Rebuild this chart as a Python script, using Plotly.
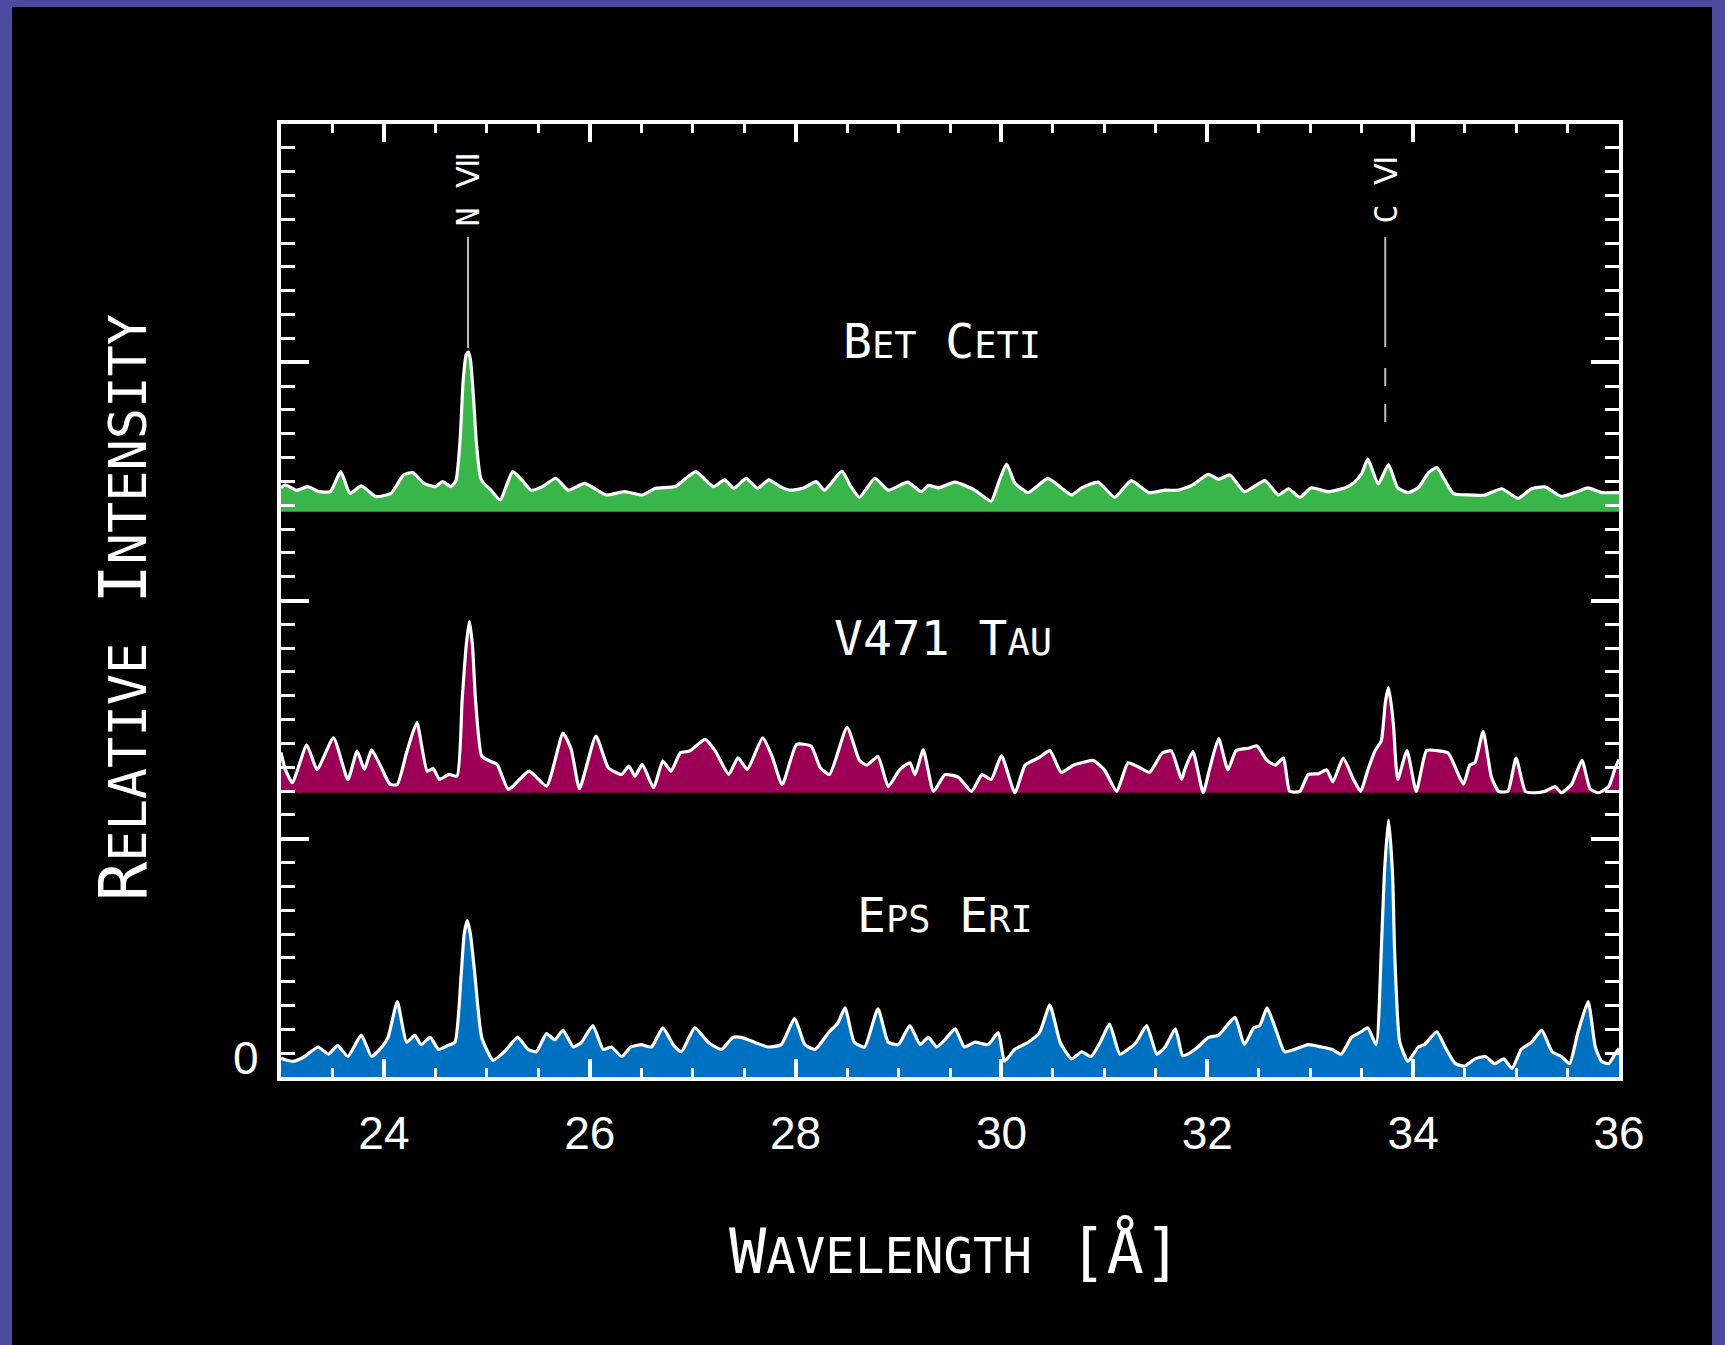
import plotly.graph_objects as go

# ---------------------------------------------------------------------------
# RGS-style X-ray spectra: (wavelength [Å], relative intensity above zero level)
# ---------------------------------------------------------------------------
BET_CETI = [
    (23.00, 0.100), (23.04, 0.112), (23.15, 0.090), (23.26, 0.105), (23.37, 0.084),
    (23.48, 0.084), (23.58, 0.168), (23.67, 0.077), (23.78, 0.108), (23.92, 0.063),
    (24.07, 0.077), (24.19, 0.154), (24.28, 0.164), (24.39, 0.119), (24.50, 0.105),
    (24.57, 0.126), (24.65, 0.105), (24.70, 0.130), (24.74, 0.300), (24.77, 0.550),
    (24.80, 0.660), (24.82, 0.670), (24.84, 0.640), (24.87, 0.480), (24.90, 0.280),
    (24.94, 0.140), (24.97, 0.119), (25.04, 0.090), (25.13, 0.049), (25.25, 0.168),
    (25.34, 0.133), (25.43, 0.090), (25.54, 0.105), (25.67, 0.140), (25.79, 0.090),
    (25.95, 0.119), (26.16, 0.070), (26.34, 0.084), (26.51, 0.070), (26.64, 0.098),
    (26.83, 0.105), (27.03, 0.168), (27.20, 0.105), (27.31, 0.133), (27.40, 0.098),
    (27.52, 0.140), (27.63, 0.098), (27.74, 0.133), (27.85, 0.105), (27.94, 0.090),
    (28.07, 0.098), (28.20, 0.126), (28.28, 0.090), (28.45, 0.170), (28.53, 0.110),
    (28.62, 0.060), (28.77, 0.140), (28.90, 0.090), (29.09, 0.124), (29.22, 0.084),
    (29.29, 0.110), (29.39, 0.100), (29.55, 0.124), (29.74, 0.090), (29.90, 0.044),
    (29.97, 0.120), (30.05, 0.200), (30.13, 0.120), (30.26, 0.080), (30.45, 0.140),
    (30.58, 0.100), (30.68, 0.070), (30.78, 0.100), (30.94, 0.124), (31.10, 0.060),
    (31.26, 0.130), (31.43, 0.080), (31.59, 0.090), (31.72, 0.090), (31.85, 0.110),
    (32.01, 0.156), (32.11, 0.136), (32.22, 0.154), (32.36, 0.084), (32.56, 0.130),
    (32.69, 0.070), (32.79, 0.096), (32.90, 0.060), (33.01, 0.100), (33.17, 0.084),
    (33.34, 0.100), (33.43, 0.124), (33.50, 0.160), (33.56, 0.220), (33.66, 0.116),
    (33.76, 0.197), (33.85, 0.100), (33.95, 0.080), (34.05, 0.100), (34.15, 0.164),
    (34.23, 0.185), (34.31, 0.130), (34.39, 0.076), (34.53, 0.070), (34.70, 0.070),
    (34.86, 0.096), (35.02, 0.056), (35.15, 0.096), (35.28, 0.104), (35.44, 0.064),
    (35.57, 0.080), (35.70, 0.100), (35.83, 0.080), (35.96, 0.080), (36.00, 0.080),
]

V471_TAU = [
    (23.00, 0.170), (23.04, 0.100), (23.11, 0.042), (23.25, 0.200), (23.35, 0.098),
    (23.51, 0.230), (23.65, 0.056), (23.74, 0.175), (23.81, 0.098), (23.88, 0.180),
    (23.96, 0.119), (24.06, 0.035), (24.13, 0.035), (24.22, 0.168), (24.32, 0.294),
    (24.42, 0.091), (24.48, 0.101), (24.54, 0.056), (24.63, 0.077), (24.71, 0.070),
    (24.76, 0.390), (24.80, 0.620), (24.83, 0.720), (24.86, 0.620), (24.89, 0.390),
    (24.95, 0.154), (25.03, 0.133), (25.10, 0.119), (25.21, 0.014), (25.41, 0.091),
    (25.58, 0.028), (25.74, 0.250), (25.82, 0.182), (25.90, 0.017), (26.06, 0.238),
    (26.18, 0.105), (26.31, 0.077), (26.38, 0.112), (26.44, 0.070), (26.51, 0.119),
    (26.62, 0.021), (26.71, 0.133), (26.79, 0.091), (26.88, 0.168), (26.97, 0.175),
    (27.12, 0.224), (27.22, 0.175), (27.35, 0.077), (27.44, 0.147), (27.53, 0.098),
    (27.68, 0.231), (27.77, 0.154), (27.87, 0.035), (28.01, 0.203), (28.15, 0.196),
    (28.24, 0.105), (28.33, 0.077), (28.50, 0.275), (28.62, 0.136), (28.69, 0.116),
    (28.80, 0.152), (28.90, 0.026), (29.01, 0.096), (29.11, 0.126), (29.16, 0.076),
    (29.24, 0.180), (29.34, 0.006), (29.45, 0.076), (29.58, 0.066), (29.71, 0.006),
    (29.81, 0.076), (29.90, 0.056), (30.00, 0.156), (30.13, 0.000), (30.23, 0.116),
    (30.36, 0.146), (30.47, 0.177), (30.58, 0.086), (30.70, 0.116), (30.78, 0.126),
    (30.89, 0.136), (31.00, 0.096), (31.12, 0.006), (31.23, 0.126), (31.34, 0.106),
    (31.44, 0.086), (31.56, 0.166), (31.65, 0.176), (31.75, 0.056), (31.78, 0.096),
    (31.86, 0.173), (31.96, 0.000), (32.02, 0.096), (32.11, 0.227), (32.20, 0.096),
    (32.28, 0.177), (32.40, 0.187), (32.48, 0.197), (32.58, 0.136), (32.66, 0.116),
    (32.74, 0.146), (32.80, 0.006), (32.90, 0.006), (32.98, 0.076), (33.08, 0.080),
    (33.16, 0.096), (33.22, 0.046), (33.32, 0.146), (33.42, 0.056), (33.49, 0.006),
    (33.56, 0.096), (33.63, 0.177), (33.69, 0.217), (33.73, 0.380), (33.76, 0.441),
    (33.79, 0.360), (33.81, 0.277), (33.85, 0.056), (33.94, 0.177), (34.03, 0.006),
    (34.13, 0.177), (34.23, 0.177), (34.34, 0.167), (34.44, 0.076), (34.49, 0.036),
    (34.55, 0.116), (34.60, 0.126), (34.68, 0.257), (34.76, 0.066), (34.83, 0.006),
    (34.92, 0.006), (35.00, 0.146), (35.09, 0.006), (35.18, 0.000), (35.28, 0.006),
    (35.38, 0.026), (35.44, 0.000), (35.54, 0.036), (35.64, 0.136), (35.72, 0.016),
    (35.80, 0.000), (35.90, 0.026), (35.96, 0.100), (36.00, 0.140),
]

EPS_ERI = [
    (23.00, 0.080), (23.02, 0.076), (23.12, 0.066), (23.23, 0.086), (23.36, 0.126),
    (23.46, 0.096), (23.55, 0.132), (23.65, 0.086), (23.78, 0.176), (23.88, 0.086),
    (23.98, 0.126), (24.04, 0.166), (24.13, 0.316), (24.22, 0.146), (24.30, 0.176),
    (24.36, 0.136), (24.45, 0.166), (24.53, 0.116), (24.62, 0.132), (24.69, 0.146),
    (24.75, 0.426), (24.78, 0.600), (24.81, 0.657), (24.84, 0.600), (24.88, 0.446),
    (24.95, 0.166), (25.06, 0.070), (25.17, 0.106), (25.30, 0.166), (25.40, 0.116),
    (25.48, 0.106), (25.58, 0.182), (25.66, 0.156), (25.74, 0.196), (25.84, 0.126),
    (25.92, 0.146), (26.03, 0.216), (26.13, 0.116), (26.21, 0.126), (26.31, 0.086),
    (26.40, 0.126), (26.50, 0.136), (26.60, 0.126), (26.71, 0.206), (26.81, 0.136),
    (26.89, 0.106), (27.02, 0.206), (27.15, 0.146), (27.28, 0.116), (27.39, 0.166),
    (27.47, 0.166), (27.60, 0.146), (27.73, 0.126), (27.86, 0.136), (27.99, 0.246),
    (28.09, 0.136), (28.19, 0.116), (28.32, 0.186), (28.41, 0.226), (28.48, 0.290),
    (28.57, 0.146), (28.67, 0.126), (28.80, 0.286), (28.90, 0.146), (29.00, 0.136),
    (29.11, 0.216), (29.21, 0.136), (29.29, 0.166), (29.37, 0.126), (29.45, 0.156),
    (29.55, 0.202), (29.64, 0.126), (29.74, 0.146), (29.87, 0.136), (29.97, 0.186),
    (30.03, 0.066), (30.13, 0.116), (30.26, 0.146), (30.37, 0.186), (30.47, 0.302),
    (30.57, 0.146), (30.68, 0.076), (30.78, 0.106), (30.87, 0.086), (30.96, 0.146),
    (31.05, 0.222), (31.15, 0.096), (31.23, 0.116), (31.31, 0.146), (31.41, 0.216),
    (31.51, 0.096), (31.59, 0.126), (31.69, 0.202), (31.76, 0.090), (31.81, 0.096),
    (31.91, 0.126), (32.01, 0.166), (32.11, 0.176), (32.19, 0.216), (32.27, 0.250),
    (32.36, 0.136), (32.45, 0.206), (32.51, 0.216), (32.58, 0.290), (32.66, 0.206),
    (32.75, 0.106), (32.85, 0.116), (32.98, 0.136), (33.11, 0.126), (33.21, 0.116),
    (33.30, 0.096), (33.40, 0.166), (33.48, 0.186), (33.56, 0.206), (33.64, 0.136),
    (33.69, 0.526), (33.72, 0.850), (33.76, 1.078), (33.80, 0.850), (33.82, 0.526),
    (33.87, 0.146), (33.95, 0.066), (34.05, 0.126), (34.11, 0.136), (34.23, 0.190),
    (34.31, 0.126), (34.41, 0.056), (34.50, 0.046), (34.60, 0.076), (34.70, 0.086),
    (34.79, 0.056), (34.88, 0.076), (34.96, 0.036), (35.05, 0.116), (35.15, 0.146),
    (35.25, 0.196), (35.35, 0.106), (35.44, 0.086), (35.52, 0.056), (35.60, 0.186),
    (35.70, 0.316), (35.77, 0.126), (35.83, 0.066), (35.90, 0.056), (35.96, 0.096),
    (36.00, 0.120),
]

# zero level of each stacked spectrum on the common intensity axis
BET_ZERO = 2.373
TAU_ZERO = 1.193
ERI_ZERO = 0.0

STAR_NAMES = ["Bet Ceti", "V471 Tau", "Eps Eri"]
STAR_COLORS = ["#3ab54a", "#9b0056", "#0071c1"]
# where each star name is written (wavelength, intensity)
NAME_POS = [(29.42, 3.09), (29.43, 1.842), (29.45, 0.68)]

# identified emission lines
LINE_LABELS = ["N Ⅶ", "C Ⅵ"]
LINE_WAVES = [24.817, 33.729]

X_TICKS = [24, 26, 28, 30, 32, 34, 36]
X_TICK_TEXT = ["24", "26", "28", "30", "32", "34", "36"]

# ---------------------------------------------------------------------------
W, H = 1725, 1345
L, R, T, B = 281, 106, 124, 268          # plot-area margins in px
PW, PH = W - L - R, H - T - B

MONO = "DejaVu Sans Mono"
SANS = "Liberation Sans"


def small_caps(text, small):
    """Upper-case letters at full size, lower-case ones as smaller capitals."""
    out = []
    for ch in text:
        if ch.islower():
            out.append(f"<span style='font-size:{small}px'>{ch.upper()}</span>")
        else:
            out.append(ch)
    return "".join(out)


def px_to_paper(xp, yp):
    return (xp - L) / PW, (H - B - yp) / PH


fig = go.Figure()

spectra = [(BET_CETI, BET_ZERO), (V471_TAU, TAU_ZERO), (EPS_ERI, ERI_ZERO)]
for (pts, zero), color in zip(spectra, STAR_COLORS):
    wave = [p[0] for p in pts]
    flux = [zero + p[1] for p in pts]
    fig.add_trace(go.Scatter(
        x=wave, y=[zero] * len(wave), mode="lines",
        line=dict(width=0, color=color), hoverinfo="skip", showlegend=False))
    fig.add_trace(go.Scatter(
        x=wave, y=flux, mode="lines", fill="tonexty", fillcolor=color,
        line=dict(color="white", width=3.2, shape="spline", smoothing=0.5),
        hoverinfo="skip", showlegend=False))

# black panel on the purple page
bx0, by0 = px_to_paper(12, H)
bx1, by1 = px_to_paper(1712, 7)
shapes = [dict(type="rect", xref="paper", yref="paper", x0=bx0, x1=bx1,
               y0=by0, y1=by1, fillcolor="black", line=dict(width=0),
               layer="below")]

# line-identification markers
grey = "#bdbdbd"
shapes.append(dict(type="line", xref="x", yref="y", x0=LINE_WAVES[0], x1=LINE_WAVES[0],
                   y0=3.06, y1=3.525, line=dict(color=grey, width=2)))
shapes.append(dict(type="line", xref="x", yref="y", x0=LINE_WAVES[1], x1=LINE_WAVES[1],
                   y0=3.063, y1=3.525, line=dict(color=grey, width=2)))
shapes.append(dict(type="line", xref="x", yref="y", x0=LINE_WAVES[1], x1=LINE_WAVES[1],
                   y0=2.749, y1=2.979, line=dict(color=grey, width=2, dash="18px,18px")))

annotations = []
for lab, wl in zip(LINE_LABELS, LINE_WAVES):
    annotations.append(dict(x=wl, y=3.725, xref="x", yref="y", text=lab,
                            textangle=-90, showarrow=False,
                            xanchor="center", yanchor="middle",
                            font=dict(family=MONO, size=32, color="white")))

for name, (xn, yn) in zip(STAR_NAMES, NAME_POS):
    annotations.append(dict(x=xn, y=yn, xref="x", yref="y",
                            text=small_caps(name, 37), showarrow=False,
                            xanchor="center", yanchor="middle",
                            font=dict(family=MONO, size=48, color="white")))

# axis titles
tx, ty = px_to_paper(955, 1251)
annotations.append(dict(x=tx, y=ty, xref="paper", yref="paper",
                        xanchor="center", yanchor="middle",
                        text=small_caps("Wavelength [Å]", 49), showarrow=False,
                        font=dict(family=MONO, size=62, color="white")))
yx, yy = px_to_paper(123, 608)
annotations.append(dict(x=yx, y=yy, xref="paper", yref="paper", textangle=-90,
                        xanchor="center", yanchor="middle",
                        text=small_caps("Relative Intensity", 52), showarrow=False,
                        font=dict(family=MONO, size=65, color="white")))
# zero label on the intensity axis
annotations.append(dict(x=0, y=0, xref="paper", yref="y", text="0", showarrow=False,
                        xanchor="right", yanchor="middle", xshift=-20, yshift=19,
                        font=dict(family=SANS, size=46, color="white")))

axis_common = dict(showline=True, linecolor="white", linewidth=4, mirror="allticks",
                   ticks="inside", tickcolor="white", tickwidth=3.5,
                   showgrid=False, zeroline=False)

fig.update_layout(
    width=W, height=H,
    margin=dict(l=L, r=R, t=T, b=B, autoexpand=False),
    paper_bgcolor="#4a4a9f", plot_bgcolor="black",
    showlegend=False,
    shapes=shapes, annotations=annotations,
    xaxis=dict(range=[23, 36], tickvals=X_TICKS, ticktext=X_TICK_TEXT, ticklen=18,
               minor=dict(dtick=0.5, tick0=0, ticks="inside", ticklen=9,
                          tickcolor="white", tickwidth=3),
               tickfont=dict(family=SANS, size=46, color="white"),
               ticklabelstandoff=13, **axis_common),
    yaxis=dict(range=[0, 4], tickvals=[0, 1, 2, 3, 4], showticklabels=False, ticklen=28,
               minor=dict(dtick=0.1, tick0=0, ticks="inside", ticklen=14,
                          tickcolor="white", tickwidth=3),
               **axis_common),
)

fig.write_html("out.html", config={"displayModeBar": False})
